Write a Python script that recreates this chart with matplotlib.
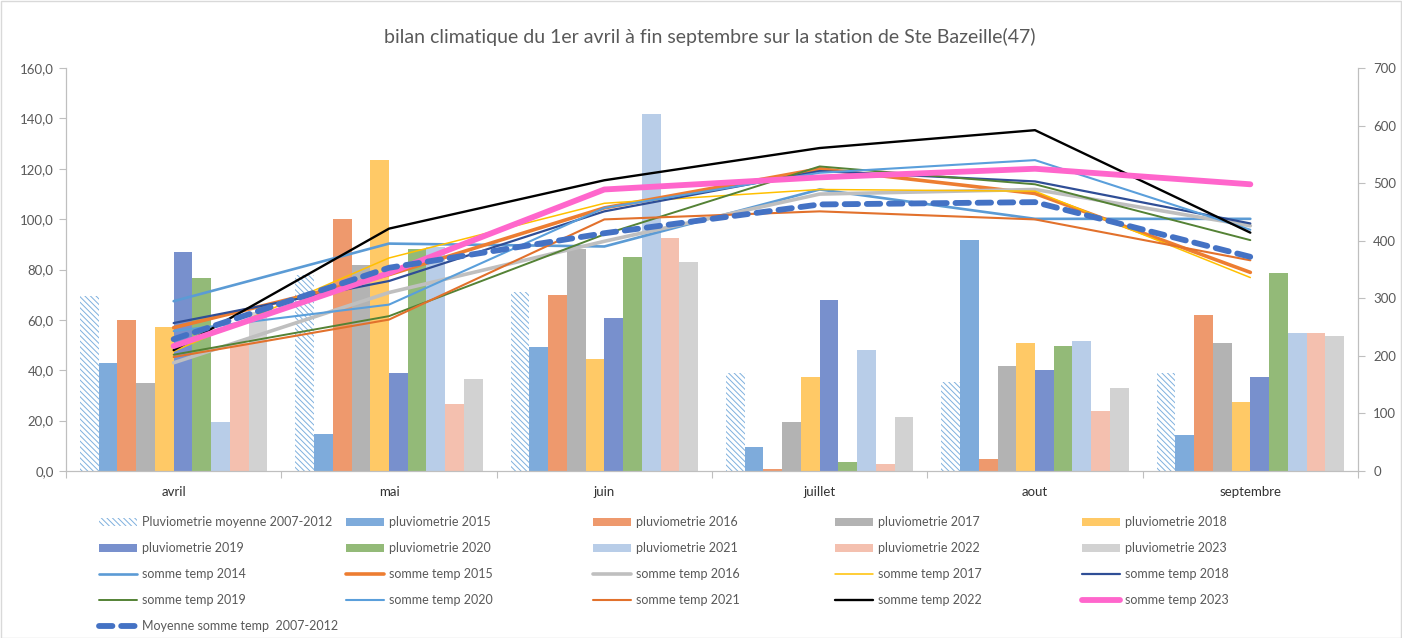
import matplotlib
matplotlib.use('Agg')
import matplotlib.pyplot as plt
import numpy as np
from matplotlib.patches import Rectangle
from matplotlib.ticker import FuncFormatter

plt.rcParams['font.family'] = ['Lato', 'DejaVu Sans']
plt.rcParams['hatch.linewidth'] = 0.7

# ---------------- data ----------------
months = ['avril', 'mai', 'juin', 'juillet', 'aout', 'septembre']

pluvio_moy = [69.5, 78.0, 71.2, 39.0, 35.3, 39.0]
pluvio_2015 = [43.0, 14.5, 49.3, 9.7, 91.9, 14.2]
pluvio_2016 = [60.0, 100.0, 69.8, 0.8, 4.8, 61.9]
pluvio_2017 = [35.0, 81.7, 88.0, 19.6, 41.5, 50.7]
pluvio_2018 = [57.3, 123.4, 44.3, 37.4, 50.7, 27.5]
pluvio_2019 = [86.8, 39.0, 60.8, 67.9, 40.1, 37.2]
pluvio_2020 = [76.7, 88.1, 85.0, 3.6, 49.7, 78.8]
pluvio_2021 = [19.6, 89.0, 141.9, 48.0, 51.7, 54.9]
pluvio_2022 = [50.8, 26.6, 92.7, 2.8, 23.8, 54.9]
pluvio_2023 = [63.0, 36.4, 82.9, 21.4, 33.1, 53.7]

temp_2014 = [295, 395, 390, 489, 438, 438]
temp_2015 = [249, 341, 457, 525, 482, 345]
temp_2016 = [188, 310, 399, 481, 489, 426]
temp_2017 = [208, 370, 465, 489, 486, 336]
temp_2018 = [257, 330, 451, 521, 503, 430]
temp_2019 = [202, 269, 411, 529, 498, 401]
temp_2020 = [243, 289, 457, 518, 540, 419]
temp_2021 = [198, 263, 437, 451, 437, 366]
temp_2022 = [210, 421, 505, 561, 592, 414]
temp_2023 = [217, 344, 489, 510, 525, 498]
temp_moy = [229, 353, 413, 463, 467, 372]

bar_labels = ['Pluviometrie moyenne 2007-2012', 'pluviometrie 2015', 'pluviometrie 2016',
              'pluviometrie 2017', 'pluviometrie 2018', 'pluviometrie 2019',
              'pluviometrie 2020', 'pluviometrie 2021', 'pluviometrie 2022', 'pluviometrie 2023']
line_labels = ['somme temp 2014', 'somme temp 2015', 'somme temp 2016', 'somme temp 2017',
               'somme temp 2018', 'somme temp 2019', 'somme temp 2020', 'somme temp 2021',
               'somme temp 2022', 'somme temp 2023']
moy_label = 'Moyenne somme temp  2007-2012'
title = 'bilan climatique du 1er avril à fin septembre sur la station de Ste Bazeille(47)'

# ---------------- styles ----------------
bar_values = [pluvio_moy, pluvio_2015, pluvio_2016, pluvio_2017, pluvio_2018,
              pluvio_2019, pluvio_2020, pluvio_2021, pluvio_2022, pluvio_2023]
bar_colors = [None, '#7EABDB', '#EE996D', '#B3B3B3', '#FFC966',
              '#7890CD', '#93BA78', '#B8CDE8', '#F4C0AF', '#D2D2D2']

line_values = [temp_2014, temp_2015, temp_2016, temp_2017, temp_2018,
               temp_2019, temp_2020, temp_2021, temp_2022, temp_2023]
line_colors = ['#5B9BD5', '#ED7D31', '#BFBFBF', '#FFC000', '#2F4E96',
               '#548235', '#5A9FDB', '#E2712C', '#000000', '#FF66CC']
line_widths = [1.9, 2.6, 2.6, 1.1, 1.6, 1.4, 1.5, 1.5, 1.7, 4.2]

W, H = 1402, 638
fig = plt.figure(figsize=(W / 100, H / 100), dpi=100)
fig.patch.set_facecolor('white')
ax = fig.add_axes([66 / W, 1 - 471 / H, (1358 - 66) / W, (471 - 68) / H])
ax2 = ax.twinx()

x = np.arange(len(months))
bw = 0.087
bar_handles = []
for i, vals in enumerate(bar_values):
    off = (i - 4.5) * bw
    if i == 0:
        b = ax.bar(x + off, vals, bw, facecolor='white', edgecolor='#7FB0DE',
                   hatch='\\\\\\\\\\\\', linewidth=0, zorder=2)
    else:
        b = ax.bar(x + off, vals, bw, color=bar_colors[i], linewidth=0, zorder=2)
    bar_handles.append(b)

line_handles = []
for vals, c, lw in zip(line_values, line_colors, line_widths):
    l, = ax2.plot(x, vals, color=c, lw=lw, solid_capstyle='round', solid_joinstyle='round')
    line_handles.append(l)
moy_line, = ax2.plot(x, temp_moy, color='#4472C4', lw=4.2, linestyle=(0, (2.3, 1.5)),
                     dash_capstyle='round')

ax.set_xlim(-0.5, 5.5)
ax.set_ylim(0, 160)
ax2.set_ylim(0, 700)

ax.set_yticks(np.arange(0, 161, 20))
ax.yaxis.set_major_formatter(FuncFormatter(lambda v, p: f'{v:.1f}'.replace('.', ',')))
ax2.set_yticks(np.arange(0, 701, 100))

ax.set_xticks(x)
ax.set_xticklabels(months)
ax.set_xticks(np.arange(-0.5, 6, 1), minor=True)
ax.tick_params(axis='x', which='major', length=0, pad=11, labelsize=9.5, labelcolor='#333333')
ax.tick_params(axis='x', which='minor', length=5, color='#BFBFBF', width=0.8)
ax.tick_params(axis='y', length=5, color='#BFBFBF', width=0.8, labelsize=9.5,
               labelcolor='#595959', pad=4)
ax2.tick_params(axis='y', length=5, color='#BFBFBF', width=0.8, labelsize=9.5,
                labelcolor='#595959', pad=6)

for a in (ax, ax2):
    a.spines['top'].set_visible(False)
    for s in ('left', 'right', 'bottom'):
        a.spines[s].set_color('#BFBFBF')
        a.spines[s].set_linewidth(0.8)

fig.text(710 / W, 1 - 37 / H, title, ha='center', va='center', fontsize=14, color='#595959')

# ---------------- legend (5 equal columns) ----------------
handles = bar_handles + line_handles + [moy_line]
labels = bar_labels + line_labels + [moy_label]
col_text_x = [143, 390, 637, 879, 1126]
for j in range(5):
    idx = list(range(j, len(handles), 5))
    fig.legend([handles[k] for k in idx], [labels[k] for k in idx], loc='upper left',
               bbox_to_anchor=((col_text_x[j] - 44) / W, 1 - 516 / H), frameon=False,
               borderpad=0, borderaxespad=0, handlelength=3.0, handletextpad=0.45,
               handleheight=0.6, labelspacing=1.12, fontsize=9, labelcolor='#595959')

fig.patches.append(Rectangle((0.5 / W, 0.5 / H), 1 - 1.5 / W, 1 - 1.5 / H, transform=fig.transFigure,
                             fill=False, edgecolor='#D9D9D9', lw=1))

fig.savefig('out.png', dpi=100, facecolor='white')
